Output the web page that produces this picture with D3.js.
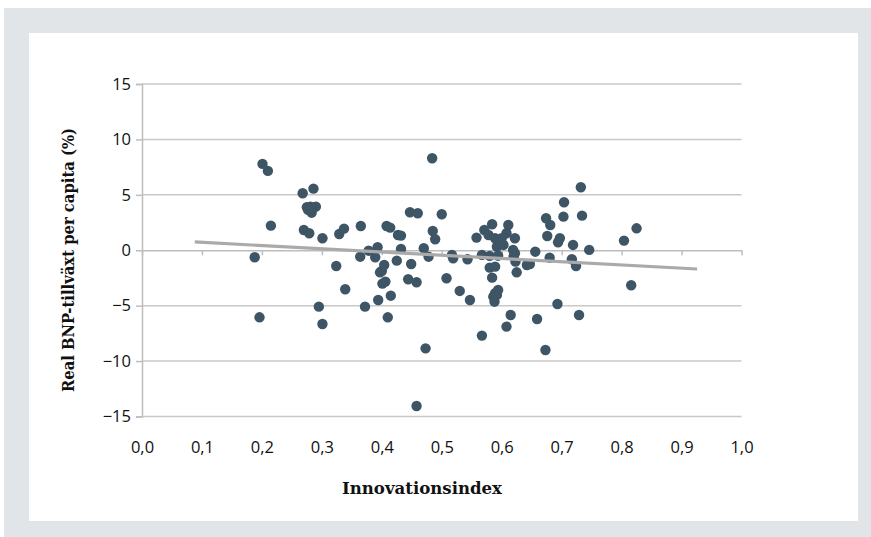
<!DOCTYPE html>
<html>
<head>
<meta charset="utf-8">
<script src="https://cdn.jsdelivr.net/npm/d3@7"></script>
<style>
  html, body { margin: 0; padding: 0; background: #ffffff; }
  svg { display: block; }
</style>
</head>
<body>
<svg id="chart" width="871" height="537"></svg>
<script>
// Innovation index vs real GDP growth per capita, one dot per country
const innovationIndex = [
  0.201, 0.210, 0.268, 0.286, 0.275, 0.281, 0.290, 0.283, 0.277, 0.215,
  0.270, 0.279, 0.301, 0.329, 0.337, 0.188, 0.324, 0.339, 0.295, 0.196,
  0.301, 0.365, 0.408, 0.414, 0.427, 0.432, 0.447, 0.460, 0.500, 0.485,
  0.489, 0.364, 0.378, 0.393, 0.389, 0.432, 0.425, 0.470, 0.478, 0.517,
  0.519, 0.543, 0.404, 0.400, 0.397, 0.449, 0.401, 0.406, 0.444, 0.458,
  0.508, 0.394, 0.415, 0.530, 0.372, 0.410, 0.547, 0.704, 0.674, 0.681,
  0.703, 0.676, 0.697, 0.694, 0.584, 0.571, 0.558, 0.611, 0.608, 0.622,
  0.578, 0.589, 0.594, 0.600, 0.592, 0.603, 0.619, 0.622, 0.656, 0.680,
  0.567, 0.580, 0.594, 0.623, 0.642, 0.647, 0.580, 0.589, 0.584, 0.625,
  0.594, 0.589, 0.586, 0.588, 0.592, 0.693, 0.615, 0.659, 0.608, 0.567,
  0.732, 0.734, 0.719, 0.746, 0.804, 0.825, 0.717, 0.724, 0.816, 0.729,
  0.473, 0.458, 0.673, 0.484, 0.620
];
const gdpGrowth = [
   7.79,  7.16,  5.14,  5.56,  3.88,  3.93,  3.93,  3.39,  3.64,  2.22,
   1.83,  1.53,  1.08,  1.47,  1.95, -0.63, -1.42, -3.52, -5.09, -6.05,
  -6.65,  2.19,  2.19,  2.04,  1.38,  1.32,  3.43,  3.34,  3.25,  1.74,
   0.99, -0.58, -0.04,  0.27, -0.63,  0.12, -0.94,  0.18, -0.58, -0.42,
  -0.72, -0.81, -1.33, -1.87, -1.99, -1.24, -3.01, -2.83, -2.62, -2.89,
  -2.53, -4.49, -4.10, -3.67, -5.09, -6.05, -4.49,  4.33,  2.89,  2.28,
   3.03,  1.29,  1.08,  0.72,  2.35,  1.83,  1.14,  2.28,  1.53,  1.08,
   1.38,  1.08,  0.63,  1.08,  0.32,  0.48,  0.03, -0.27, -0.13, -0.67,
  -0.42, -0.51, -0.49, -1.03, -1.33, -1.24, -1.57, -1.48, -2.47, -1.99,
  -3.58, -3.88, -4.19, -4.64, -4.03, -4.85, -5.84, -6.20, -6.89, -7.70,
   5.68,  3.12,  0.48,  0.03,  0.87,  1.98, -0.81, -1.42, -3.16, -5.84,
  -8.85, -14.05, -9.00,  8.30, -0.55
];

// Linear trend line end points
const trendX = [0.088, 0.926];
const trendY = [0.75, -1.69];

const xTickValues = [0, 0.1, 0.2, 0.3, 0.4, 0.5, 0.6, 0.7, 0.8, 0.9, 1.0];
const xTickLabels = ["0,0", "0,1", "0,2", "0,3", "0,4", "0,5", "0,6", "0,7", "0,8", "0,9", "1,0"];
const yTickValues = [-15, -10, -5, 0, 5, 10, 15];

const xTitle = "Innovationsindex";
const yTitle = "Real BNP-tillväxt per capita (%)";

const svg = d3.select("#chart");

// frame and panel
svg.append("rect").attr("x", 4).attr("y", 8).attr("width", 867).attr("height", 529).attr("fill", "#e2e5e8");
svg.append("rect").attr("x", 29).attr("y", 33).attr("width", 829).attr("height", 488).attr("fill", "#ffffff");

const x = d3.scaleLinear().domain([0, 1]).range([142, 741.5]);
const y = d3.scaleLinear().domain([-15, 15]).range([416.5, 84]);

const gridColor = "#c8c8c8";
const axisColor = "#bdbdbd";
const tickFont = "'Open Sans', 'Noto Sans', sans-serif";
const textColor = "#111111";

// horizontal gridlines
svg.append("g")
  .selectAll("line")
  .data(yTickValues.filter(v => v !== 0))
  .join("line")
  .attr("x1", x(0)).attr("x2", x(1))
  .attr("y1", d => y(d)).attr("y2", d => y(d))
  .attr("stroke", gridColor)
  .attr("stroke-width", 1.5);

// y axis
const yAxis = svg.append("g")
  .attr("transform", `translate(${x(0)},0)`)
  .call(d3.axisLeft(y).tickValues(yTickValues).tickSize(6).tickPadding(5).tickFormat(d3.format("d")));
yAxis.select(".domain").attr("stroke", axisColor).attr("stroke-width", 1.5);
yAxis.selectAll(".tick line").attr("stroke", axisColor).attr("stroke-width", 1.5);
yAxis.selectAll(".tick text")
  .attr("fill", textColor)
  .style("font-family", tickFont)
  .style("font-size", "16.5px");

// x axis drawn along y = 0, labels below the plot
const xAxis = svg.append("g")
  .attr("transform", `translate(0,${y(0)})`)
  .call(d3.axisBottom(x).tickValues(xTickValues).tickSize(5).tickSizeOuter(0)
    .tickFormat((d, i) => xTickLabels[i]));
xAxis.select(".domain").attr("stroke", axisColor).attr("stroke-width", 1.5);
xAxis.selectAll(".tick line").attr("stroke", axisColor).attr("stroke-width", 1.5);
xAxis.selectAll(".tick text")
  .attr("y", 453 - y(0))
  .attr("dy", null)
  .attr("fill", textColor)
  .style("font-family", tickFont)
  .style("font-size", "16.5px");

// points
const points = innovationIndex.map((v, i) => ({ x: v, y: gdpGrowth[i] }));
svg.append("g")
  .selectAll("circle")
  .data(points)
  .join("circle")
  .attr("cx", d => x(d.x))
  .attr("cy", d => y(d.y))
  .attr("r", 5.2)
  .attr("fill", "#3e5566");

// trend line
svg.append("line")
  .attr("x1", x(trendX[0])).attr("y1", y(trendY[0]))
  .attr("x2", x(trendX[1])).attr("y2", y(trendY[1]))
  .attr("stroke", "#aaaaaa")
  .attr("stroke-width", 3.2);

// axis titles (slab serif, squeezed to a condensed width)
const titleFont = "'DejaVu Serif', serif";
svg.append("text")
  .attr("x", 422).attr("y", 494)
  .attr("text-anchor", "middle")
  .attr("textLength", 160)
  .attr("lengthAdjust", "spacingAndGlyphs")
  .style("font-family", titleFont)
  .style("font-weight", "bold")
  .style("font-size", "17.5px")
  .attr("fill", textColor)
  .text(xTitle);

svg.append("text")
  .attr("transform", "translate(74,260) rotate(-90)")
  .attr("text-anchor", "middle")
  .attr("textLength", 264)
  .attr("lengthAdjust", "spacingAndGlyphs")
  .style("font-family", titleFont)
  .style("font-weight", "bold")
  .style("font-size", "17.5px")
  .attr("fill", textColor)
  .text(yTitle);
</script>
</body>
</html>
